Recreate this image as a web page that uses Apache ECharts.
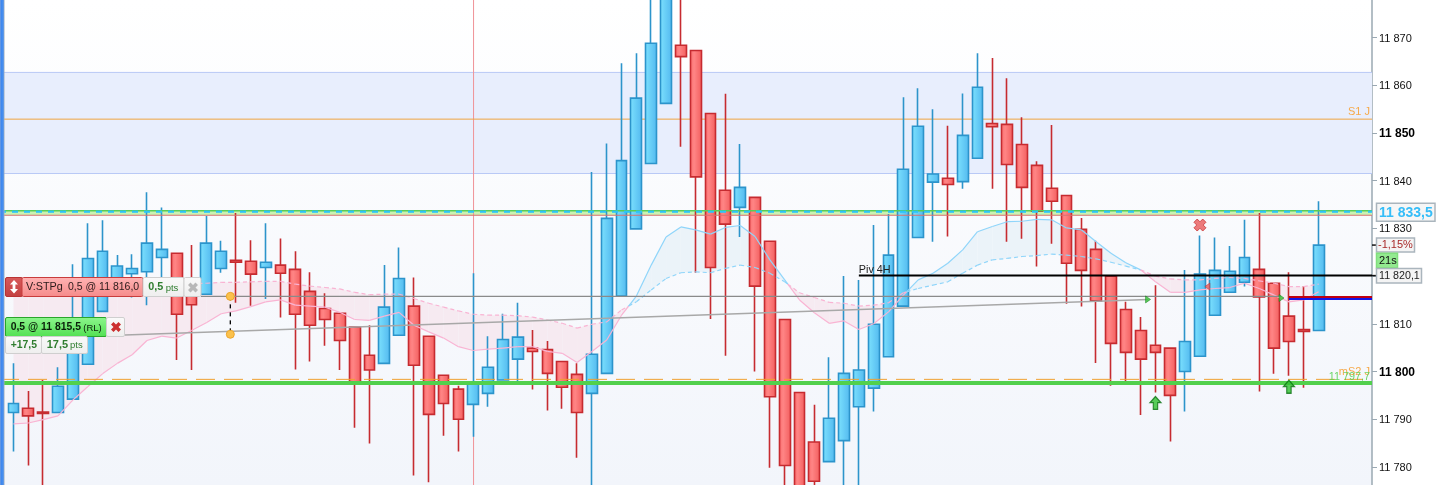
<!DOCTYPE html>
<html><head><meta charset="utf-8">
<style>html,body{margin:0;padding:0;background:#fff;overflow:hidden}#c{width:1436px;height:485px}</style>
<script src="https://cdn.jsdelivr.net/npm/echarts@6/dist/echarts.min.js"></script>
</head><body><div id="c"></div>
<script>
const yTicks=[11780,11790,11800,11810,11820,11830,11840,11850,11860,11870];
const boldTicks=[11800,11850];
const opens=[11791.4,11792.3,11791.5,11791.4,11794.2,11801.5,11812.6,11819.6,11820.5,11820.9,11823.9,11824.8,11818.1,11816.2,11821.6,11823.3,11823.1,11821.8,11822.3,11821.4,11816.8,11813.2,11812.2,11809.3,11803.4,11801.7,11807.6,11813.7,11807.4,11799.2,11796.3,11793.1,11795.4,11798.2,11802.6,11804.9,11804.6,11802.1,11799.4,11795.4,11799.6,11815.8,11829.9,11843.6,11856.2,11868.4,11867.3,11854.1,11838,11834.4,11836.5,11827.3,11810.9,11795.6,11785.2,11781.1,11785.5,11792.6,11796.5,11803.1,11813.7,11828.1,11839.7,11840.5,11839.8,11844.7,11852,11851.8,11847.6,11843.2,11838.4,11836.9,11829.8,11825.6,11820,11813,11808.6,11805.5,11804.9,11800,11803.2,11811.8,11816.6,11818.7,11821.4,11818.5,11811.6,11808.8,11808.6];
const closes=[11793.3,11790.7,11791.2,11796.9,11809.7,11823.7,11825.2,11822.1,11821.6,11826.9,11825.6,11812,11814,11826.9,11825.2,11822.9,11820.4,11822.9,11820.6,11812,11809.7,11810.9,11806.5,11797.8,11800.3,11813.5,11819.5,11801.3,11791,11793.3,11790,11797.8,11800.9,11806.7,11807.2,11804.2,11799.6,11796.7,11791.4,11803.6,11832.1,11844.2,11857.3,11868.8,11880,11866,11840.8,11821.8,11830.9,11838.6,11817.9,11794.7,11780.3,11775.2,11777,11790.2,11799.6,11800.3,11809.9,11824.4,11842.4,11851.4,11841.4,11839.2,11849.5,11859.6,11851.3,11843.4,11838.6,11833.6,11835.7,11822.7,11821.2,11814.8,11805.9,11804,11802.6,11804,11795,11806.3,11820.4,11821.2,11821,11823.9,11815.6,11804.9,11806.3,11808.4,11826.5];
const lows=[11783.2,11780.3,11775.2,11791.4,11794.2,11801.5,11812.6,11818.1,11815.5,11813.9,11819.8,11802.4,11800.3,11816.2,11820.7,11814.4,11813.8,11815.2,11811.3,11800.4,11802.1,11805.4,11800.3,11788.2,11784.9,11801.7,11807.6,11778.2,11776.8,11786.5,11783.2,11786.3,11792.6,11798.2,11797.9,11796.2,11791.8,11792.2,11781.9,11775.2,11799.6,11815.8,11829.9,11843.6,11856.2,11847.1,11820.7,11811,11803.3,11828.2,11800,11779.8,11775.2,11773,11775.2,11780.9,11775.2,11775.2,11791.6,11803.1,11813.7,11828.1,11827.2,11828.3,11838.3,11844.7,11838.3,11827.2,11827.8,11822,11826.8,11814.2,11813.6,11801.8,11797,11797.8,11790.9,11795.6,11785.3,11791.6,11803.2,11811.8,11816.6,11817.8,11795.8,11799.5,11799.1,11796.6,11808.6];
const highs=[11801.7,11795.9,11798.2,11800.9,11822.5,11831.1,11831.7,11824.4,11824.6,11837.6,11834.4,11824.8,11826.5,11832.6,11827.4,11833.2,11827.5,11831.1,11827.9,11825.2,11820.8,11816.4,11812.2,11809.3,11809.7,11822.3,11826,11819.7,11807.4,11799.2,11797,11820.6,11807.4,11812.1,11814.4,11808.7,11806.4,11802.1,11801.7,11841.8,11847.8,11864.6,11866.7,11880,11885,11885,11867.3,11854.1,11858.2,11847.7,11836.5,11827.3,11810.9,11795.6,11793,11803,11820,11819.2,11830.7,11833,11857.5,11859.4,11855,11851.5,11858.3,11866.7,11865.7,11861.5,11853.3,11844.1,11851.7,11836.9,11832.2,11827.4,11820,11814.6,11811.4,11818.1,11804.9,11821.3,11828.5,11828.1,11826.3,11831.8,11833.2,11818.5,11820.8,11817.9,11835.7];
const fastAvg=[11789,11789.2,11789.9,11790.7,11794,11796.8,11799.5,11801.7,11803.5,11806.5,11807.4,11807,11808.6,11810.2,11812.1,11812.7,11813.6,11814.6,11815,11813.9,11813.7,11813.5,11812.4,11810.9,11810.7,11811.6,11812.4,11809.7,11808.3,11807,11805.2,11804.4,11804.7,11804.9,11805.2,11805.2,11804.2,11803.8,11801.9,11804.2,11806.6,11811.8,11815.8,11822.3,11828.2,11830.3,11829.7,11828.8,11830.2,11830.6,11828.3,11823.4,11819.2,11815,11812.3,11810.1,11810.6,11808.8,11810,11812.5,11816,11819.2,11820.6,11822.7,11825.5,11829.3,11830.4,11831.4,11831.5,11831.9,11831.8,11830.1,11829.7,11827.2,11824.8,11822.8,11821.3,11818.8,11816.6,11816.6,11817.1,11817.4,11817.6,11818.5,11817.4,11816,11814.6,11815,11816.7];
const slowAvg=[11815.8,11816.2,11816.7,11817.1,11817.5,11817.7,11817.9,11818,11818.1,11818.2,11818.3,11818.4,11818.4,11818.5,11818.7,11818.7,11818.8,11818.9,11818.9,11818.3,11817.9,11817.6,11817.3,11816.6,11816.1,11816.2,11816.2,11815.3,11814.3,11813.5,11812.7,11812,11811.8,11811.8,11811.7,11811.4,11810.8,11810.1,11809.1,11809.9,11810.4,11812.9,11814.6,11817.1,11819.5,11820.7,11820.9,11820.7,11821.6,11822.3,11821.8,11820.6,11818.8,11816.5,11815.5,11814.5,11814.3,11813.7,11813.9,11814.4,11816.5,11817.4,11818.1,11818.8,11820.6,11822.3,11823.4,11823.7,11824.1,11824.3,11824.6,11824.4,11824.1,11823.6,11822.9,11822.1,11821.3,11820,11819.4,11819.2,11819.2,11819.5,11819.7,11819.5,11819,11818.5,11817.8,11817.8,11818.3];
const zoneTop=11862.7, zoneBottom=11841.5;
const s1Level=11852.9, ms2Level=11798.35, supportLevel=11797.6;
const rangeTop=11833.7, rangeBottom=11832.75, lastPrice=11833.5;
const pivotLevel=11820.1, orderLevel=11815.75, changeLevel=11826.5, timerLevel=11823;
const stopRed=11815.6, stopBlue=11815.2;
const trendStart=11807.65, trendEnd=11815.1, entryDot=11807.8;
const buyArrows=[[77,11793.4],[86,11796.8]];
const sellCross=[[80,11830.7]];
const sellMark=[[80.5,11817.8]];
const buyMarks=[[76.5,11815.1],[85.5,11815.4]];
const crossIdx=31.02;
const Y_MIN=11776.2,Y_MAX=11877.88,X_MIN=-0.91,X_MAX=91.6;

const FONT='"Liberation Sans",Arial,sans-serif';
const LG=echarts.graphic.LinearGradient;
const blueFill=new LG(0,0,1,0,[{offset:0,color:'#7de2fe'},{offset:1,color:'#52b8ef'}]);
const redFill=new LG(0,0,1,0,[{offset:0,color:'#f96a6a'},{offset:.35,color:'#ff8585'},{offset:1,color:'#f25c5c'}]);

const candleData=opens.map((o,i)=>[i,o,closes[i],lows[i],highs[i]]);
function hline(name,v,color,width,opts={}){
  return {name,type:'line',silent:true,symbol:'none',animation:false,z:opts.z||6,
    data:[[opts.from??X_MIN,v],[opts.to??X_MAX,v]],
    lineStyle:{color,width,type:opts.dash||'solid'}};
}
function cloudSegments(i){
  const a=[i,fastAvg[i],slowAvg[i]],b=[i+1,fastAvg[i+1],slowAvg[i+1]];
  const d0=a[1]-a[2],d1=b[1]-b[2];
  if(d0*d1<0){const t=d0/(d0-d1);const m=[i+t,a[1]+(b[1]-a[1])*t,a[2]+(b[2]-a[2])*t];return [[a,m],[m,b]];}
  return [[a,b]];
}
const idxData=fastAvg.slice(0,-1).map((v,i)=>[i,v,slowAvg[i]]);
function up(seg){return (seg[0][1]-seg[0][2])+(seg[1][1]-seg[1][2])>0;}

function cloudFill(params,api){
  const i=params.dataIndex,ch=[];
  cloudSegments(i).forEach(s=>{
    ch.push({type:'polygon',silent:true,shape:{points:[api.coord([s[0][0],s[0][1]]),api.coord([s[1][0],s[1][1]]),api.coord([s[1][0],s[1][2]]),api.coord([s[0][0],s[0][2]])]},
      style:{fill:up(s)?'#ebf3f9':'#f6eaf1',stroke:null}});
  });
  return {type:'group',children:ch};
}
function cloudLines(params,api){
  const i=params.dataIndex,ch=[];
  cloudSegments(i).forEach(s=>{
    const col=up(s)?'#8fd5fa':'#f9b4d3';
    ch.push({type:'polyline',silent:true,shape:{points:[api.coord([s[0][0],s[0][1]]),api.coord([s[1][0],s[1][1]])]},style:{stroke:col,lineWidth:1.2,fill:null}});
    ch.push({type:'polyline',silent:true,shape:{points:[api.coord([s[0][0],s[0][2]]),api.coord([s[1][0],s[1][2]])]},style:{stroke:col,lineWidth:1.2,fill:null,lineDash:[4,3]}});
  });
  return {type:'group',children:ch};
}
function txt(x,y,s,fill,size,align,weight){
  return {type:'text',silent:true,x,y,style:{text:s,fill,font:(weight||'normal')+' '+size+'px '+FONT,textAlign:align||'left',textVerticalAlign:'middle'}};
}
function axisTags(params,api){
  const yLast=api.coord([0,lastPrice])[1],yChg=api.coord([0,changeLevel])[1],yT=api.coord([0,timerLevel])[1],yP=api.coord([0,pivotLevel])[1];
  const box=(x,y,w,h,fill,stroke)=>({type:'rect',silent:true,shape:{x,y,width:w,height:h},style:{fill,stroke,lineWidth:1.5}});
  const tick=y=>({type:'line',silent:true,shape:{x1:1372,y1:y,x2:1377,y2:y},style:{stroke:'#111',lineWidth:1.5}});
  return {type:'group',children:[
    box(1376.5,yLast-8.5,58.5,18,'#f6f6f6','#aab5bd'),
    txt(1379,yLast+1,'11 833,5','#35bdf8',14,'left','bold'),
    tick(yChg),
    box(1376.5,yChg-7,38,14,'#f4f4f4','#aab5bd'),
    txt(1378,yChg,'-1,15%','#a82a2a',11),
    box(1376.5,yT-8.5,21,14.5,'#93ea90','#80e07d'),
    txt(1379,yT-1,'21s','#111',11),
    tick(yP),
    box(1376.5,yP-7,45,14.5,'#f4f4f4','#aab5bd'),
    txt(1379,yP,'11 820,1','#222',10.7)
  ]};
}
function levelTexts(params,api){
  const X=1370;
  return {type:'group',children:[
    txt(X,api.coord([0,s1Level])[1]-7,'S1 J','#f6a94a',11,'right'),
    txt(X,api.coord([0,ms2Level])[1]-7.5,'mS2 J','#f6a94a',11,'right'),
    txt(X,api.coord([0,supportLevel])[1]-6,'11 797,7','rgba(85,208,80,.85)',10.8,'right'),
    txt(api.coord([57,0])[0],api.coord([0,pivotLevel])[1]-6,'Piv 4H','#222',10.8)
  ]};
}
const ARROW='path://M5,0 L10,6 L7,6 L7,12.5 L3,12.5 L3,6 L0,6 Z';
const CROSS='path://M3.5,0 L6.5,3 L9.5,0 L13,3.5 L10,6.5 L13,9.5 L9.5,13 L6.5,10 L3.5,13 L0,9.5 L3,6.5 L0,3.5 Z';

const chart=echarts.init(document.getElementById('c'),null,{renderer:'canvas'});
const P=(t,x,y,fill,size,w)=>({type:'text',z:101,silent:true,style:{x,y,text:t,fill,font:(w||'normal')+' '+size+'px '+FONT,textVerticalAlign:'middle'}});
const R=(x,y,wd,h,fill,stroke)=>({type:'rect',z:100,silent:true,shape:{x,y,width:wd,height:h,r:1.5},style:{fill,stroke,lineWidth:1}});
const V=(a,b)=>new LG(0,0,0,1,[{offset:0,color:a},{offset:1,color:b}]);
const crossGfx=(x,y,color)=>({type:'polygon',z:101,silent:true,x,y,shape:{points:[[2.5,0],[5,2.5],[7.5,0],[10,2.5],[7.5,5],[10,7.5],[7.5,10],[5,7.5],[2.5,10],[0,7.5],[2.5,5],[0,2.5]]},style:{fill:color}});

chart.setOption({
  animation:false,
  backgroundColor:'#ffffff',
  grid:{left:0,top:0,width:1372,height:485,show:true,borderWidth:0,
    backgroundColor:new LG(0,0,0,1,[{offset:0,color:'#ffffff'},{offset:1,color:'#f2f5fb'}])},
  xAxis:{type:'value',min:X_MIN,max:X_MAX,show:false},
  yAxis:{type:'value',min:Y_MIN,max:Y_MAX,position:'right',scale:true,
    splitLine:{show:false},
    axisLine:{show:true,onZero:false,lineStyle:{color:'#9aa8b2',width:1.5}},
    axisTick:{show:true,length:5,lineStyle:{color:'#9aa8b2',width:1},customValues:yTicks},
    axisLabel:{margin:7,customValues:yTicks,
      formatter:v=>{const t=String(Math.round(v)).replace(/(\d\d)(\d{3})/,'$1 $2');return boldTicks.includes(Math.round(v))?'{b|'+t+'}':'{n|'+t+'}';},
      rich:{n:{color:'#111',fontSize:11,fontFamily:FONT,padding:[2,0,0,0]},b:{color:'#000',fontSize:12,fontWeight:'bold',fontFamily:FONT,padding:[2,0,0,0]}}}},
  graphic:[
    {type:'rect',z:99,silent:true,shape:{x:0,y:0,width:4.5,height:485},style:{fill:new LG(0,0,1,0,[{offset:0,color:'#8fa8d8'},{offset:.2,color:'#3b86ee'},{offset:.7,color:'#4a90f0'},{offset:1,color:'#a0aebc'}])}},
    R(5.5,277.5,17,19,V('#d85a5a','#c24040'),'#b93333'),
    {type:'polygon',z:101,silent:true,x:10,y:280,shape:{points:[[4,0],[8,4.5],[5.4,4.5],[5.4,9],[8,9],[4,13.5],[0,9],[2.6,9],[2.6,4.5],[0,4.5]]},style:{fill:'#fff'}},
    R(22,277.5,121,19,V('#ffb4b4','#f58a8a'),'#c83c3c'),
    P('V:STPg',26,287.5,'#2a1a1a',10.8),
    P('0,5 @ 11 816,0',68,287.5,'#2a1a1a',10.5),
    R(143,277.5,41,19,V('#fafafa','#eeeeee'),'#cfcfcf'),
    P('0,5',148.3,287.5,'#2f7d2f',10.8,'bold'),P('pts',165.7,288,'#2f7d2f',9.5),
    R(184,277.5,17,19,V('#fafafa','#eeeeee'),'#cfcfcf'),
    crossGfx(188,282.5,'#b8b8b8'),
    R(5.5,317.5,101,19,V('#8df58d','#52e052'),'#2aa52a'),
    P('0,5 @ 11 815,5',10.7,327.5,'#0a200a',10.4,'bold'),P('(RL)',83.3,328,'#0a200a',9.5),
    R(106.5,317.5,18,19,V('#fafafa','#eeeeee'),'#cfcfcf'),
    crossGfx(111,322,'#cc3030'),
    R(5.5,336.5,36,17,V('#fafafa','#eeeeee'),'#cfcfcf'),
    P('+17,5',10.7,345,'#2f7d2f',10.4,'bold'),
    R(41.5,336.5,46,17,V('#fafafa','#eeeeee'),'#cfcfcf'),
    P('17,5',46.7,345,'#2f7d2f',11,'bold'),P('pts',70,345.5,'#2f7d2f',9.5)
  ],
  series:[
    {name:'zone',type:'line',silent:true,data:[],z:1,markArea:{silent:true,itemStyle:{color:'#e8eefd'},data:[
      [{xAxis:X_MIN,yAxis:zoneTop},{xAxis:X_MAX,yAxis:zoneBottom}]]}},
    {name:'range',type:'line',silent:true,data:[],z:1,markArea:{silent:true,itemStyle:{color:'#c9f2b3'},data:[
      [{xAxis:X_MIN,yAxis:rangeTop},{xAxis:X_MAX,yAxis:rangeBottom}]]}},
    hline('zoneTop',zoneTop,'#b9c9f6',1,{z:2}),
    hline('zoneBottom',zoneBottom,'#b9c9f6',1,{z:2}),
    {name:'crosshair',type:'line',silent:true,symbol:'none',z:2,data:[[crossIdx,Y_MIN],[crossIdx,Y_MAX]],lineStyle:{color:'#f09298',width:1}},
    {name:'cloud',type:'custom',silent:true,z:2,renderItem:cloudFill,data:idxData,encode:{x:0,y:[1,2]}},
    {name:'candles',type:'candlestick',z:3,silent:true,barWidth:11.3,clip:true,
      encode:{x:0,y:[1,2,3,4]},data:candleData,
      itemStyle:{color:blueFill,color0:redFill,borderColor:'#2c94cb',borderColor0:'#c62b30',borderWidth:1.6}},
    {name:'averages',type:'custom',silent:true,z:5,renderItem:cloudLines,data:idxData,encode:{x:0,y:[1,2]}},
    hline('S1',s1Level,'#f0a440',1,{z:2}),
    hline('rangeTop',rangeTop,'#58cc55',1.5),
    hline('rangeBottom',rangeBottom,'#d87272',1),
    hline('last',lastPrice,'#2cc4f8',2.2,{dash:[6,6]}),
    hline('mS2',ms2Level,'#f0a030',1,{dash:[19,9]}),
    hline('support',supportLevel,'#52d04d',4),
    hline('pivot',pivotLevel,'#000',2,{from:57}),
    hline('order',orderLevel,'#8a8a8a',1.3,{from:12.64,to:85.47}),
    {name:'trend',type:'line',silent:true,symbol:'none',z:6,data:[[7.5,trendStart],[76.5,trendEnd]],lineStyle:{color:'#a8a8a8',width:1.5}},
    hline('stopRed',stopRed,'#c00010',2,{from:86}),
    hline('stopBlue',stopBlue,'#1414e6',2,{from:86}),
    {name:'link',type:'line',silent:true,symbol:'circle',symbolSize:8,z:7,data:[[14.62,orderLevel],[14.62,entryDot]],
      itemStyle:{color:'#fbc14c',borderColor:'#eda62c',borderWidth:1},lineStyle:{color:'#000',width:1.3,type:[4,4]}},
    {name:'buyArrows',type:'scatter',silent:true,z:8,symbol:ARROW,symbolSize:[11,13],data:buyArrows,itemStyle:{color:'#2fc02f',borderColor:'#0a7012',borderWidth:1.2}},
    {name:'sellCross',type:'scatter',silent:true,z:8,symbol:CROSS,symbolSize:[12,12],data:sellCross,itemStyle:{color:'#e85a5a',borderColor:'#c93535',borderWidth:1}},
    {name:'sellMark',type:'scatter',silent:true,z:8,symbol:'triangle',symbolRotate:90,symbolSize:[7,5],data:sellMark,itemStyle:{color:'#ec5a5a',borderColor:'#b52c2c',borderWidth:.6}},
    {name:'buyMarks',type:'scatter',silent:true,z:8,symbol:'triangle',symbolRotate:-90,symbolSize:[7,5],data:buyMarks,itemStyle:{color:'#35c135',borderColor:'#0a7d12',borderWidth:.6}},
    {name:'levelTexts',type:'custom',silent:true,z:9,clip:false,renderItem:levelTexts,data:[[0,lastPrice]]},
    {name:'axisTags',type:'custom',silent:true,z:9,clip:false,renderItem:axisTags,data:[[0,lastPrice]]}
  ]
});
</script></body></html>
